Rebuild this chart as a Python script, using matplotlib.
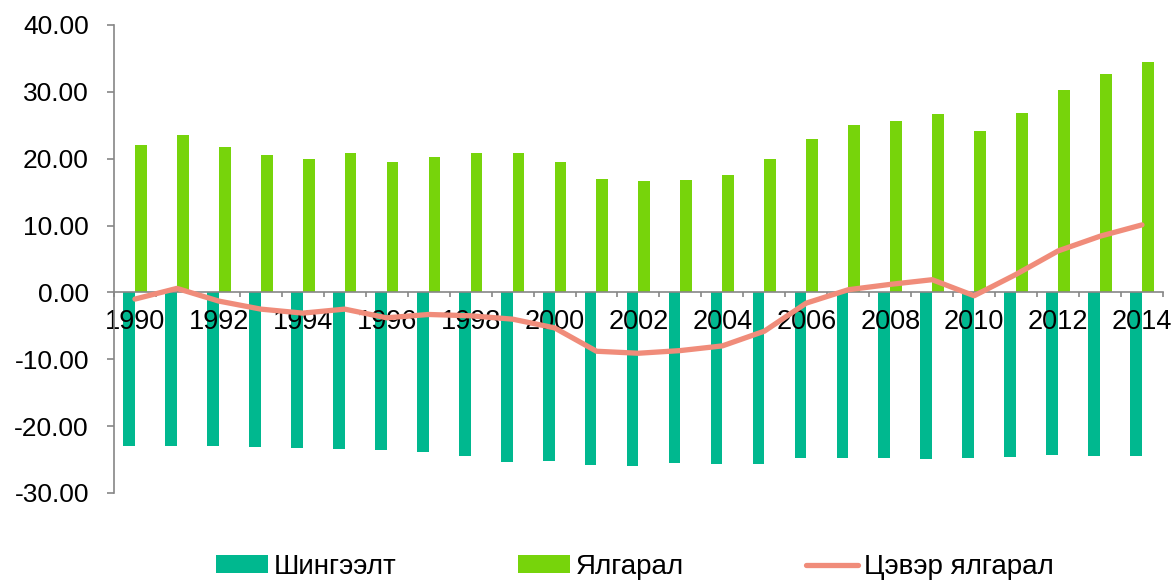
import matplotlib.pyplot as plt
import numpy as np

years = list(range(1990, 2015))

# Шингээлт (absorption), negative values
absorption = [-23.0, -23.0, -23.0, -23.1, -23.2, -23.4, -23.6, -23.8, -24.4, -25.3,
              -25.2, -25.8, -25.9, -25.5, -25.7, -25.7, -24.7, -24.7, -24.7, -24.9,
              -24.7, -24.6, -24.3, -24.5, -24.4]
# Ялгарал (emission)
emission = [22.0, 23.5, 21.7, 20.6, 20.0, 20.8, 19.5, 20.3, 20.8, 20.9,
            19.5, 16.9, 16.7, 16.8, 17.6, 19.9, 22.9, 25.0, 25.7, 26.7,
            24.2, 26.9, 30.2, 32.7, 34.5]
# Цэвэр ялгарал (net emission)
net = [-1.0, 0.6, -1.3, -2.5, -3.1, -2.5, -3.8, -3.3, -3.5, -4.0,
       -5.3, -8.8, -9.1, -8.7, -8.0, -5.8, -1.6, 0.4, 1.2, 1.9,
       -0.5, 2.7, 6.2, 8.4, 10.1]

labels = ["Шингээлт", "Ялгарал", "Цэвэр ялгарал"]

plt.rcParams['font.family'] = ['Liberation Sans', 'DejaVu Sans']

fig = plt.figure(figsize=(11.76, 5.8), dpi=100)
ax = fig.add_axes([0.0969, 0.15, 0.892, 0.807])

x = np.arange(len(years))
w = 0.28
b1 = ax.bar(x - w / 2, absorption, width=w, color="#00B88F", zorder=1)
b2 = ax.bar(x + w / 2, emission, width=w, color="#77D40B", zorder=1)
l1, = ax.plot(x, net, color="#F08C7A", lw=3.8, solid_capstyle="round",
              solid_joinstyle="round", zorder=3)

ax.set_xlim(-0.5, len(years) - 0.5)
ax.set_ylim(-30, 40)
ax.set_yticks(np.arange(-30, 41, 10))
ax.set_yticklabels([f"{v:.2f}" for v in np.arange(-30, 41, 10)])

ax.set_xticks(x[::2])
ax.set_xticklabels([str(y) for y in years[::2]])
ax.set_xticks(np.arange(-0.5, len(years), 1), minor=True)

gray = "#868686"
for s in ["top", "right"]:
    ax.spines[s].set_visible(False)
ax.spines["bottom"].set_position(("data", 0))
ax.spines["left"].set_color(gray)
ax.spines["bottom"].set_color(gray)
ax.spines["left"].set_linewidth(1.2)
ax.spines["bottom"].set_linewidth(1.2)

ax.tick_params(axis="y", length=5, width=1.2, color=gray, pad=13, labelsize=19)
ax.tick_params(axis="x", which="major", length=0, pad=12, labelsize=19.5)
ax.tick_params(axis="x", which="minor", length=3.6, width=1.2, color=gray)

fig.legend([b1, b2, l1], labels, loc="center", bbox_to_anchor=(0.5396, 0.0224),
           ncol=3, frameon=False, fontsize=20, handlelength=1.87,
           handleheight=0.6, handletextpad=0.2, columnspacing=4.4,
           borderaxespad=0, borderpad=0)

fig.savefig("out.png", dpi=100)
